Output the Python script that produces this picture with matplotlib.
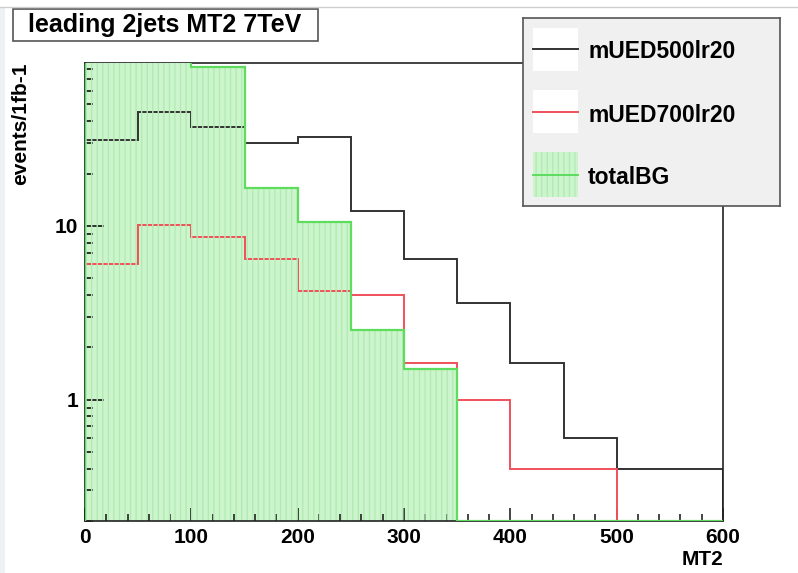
import numpy as np
import matplotlib
matplotlib.use('Agg')
import matplotlib.pyplot as plt
from matplotlib.patches import Rectangle
from matplotlib.lines import Line2D
from matplotlib.ticker import MultipleLocator, FixedLocator, LogLocator, NullFormatter, FuncFormatter

plt.rcParams['font.family'] = ['Liberation Sans', 'DejaVu Sans']
plt.rcParams['font.weight'] = 'bold'
plt.rcParams['hatch.linewidth'] = 1.0

# MT2 binning (50 GeV bins) and events per 1/fb
mt2_edges = [0, 50, 100, 150, 200, 250, 300, 350, 400, 450, 500, 550, 600]
mued500 = [31, 45, 37, 30, 32.5, 12.1, 6.4, 3.6, 1.63, 0.60, 0.40, 0.40]
mued700 = [6.05, 10.1, 8.6, 6.4, 4.2, 4.0, 1.62, 1.0, 0.40, 0.40, 0, 0]
total_bg = [140, 120, 82, 16.5, 10.5, 2.5, 1.5, 0, 0, 0, 0, 0]

labels = ['mUED500lr20', 'mUED700lr20', 'totalBG']

y_lo, y_hi = 0.2, 86.5
c_black = '#333333'
c_red = '#f0505a'
c_fill = '#cdf5cd'
c_hatch = '#b2ebb2'
c_green = '#5ddc5d'


def floor_zero(v):
    # empty bins sit on the bottom of the log axis
    v = np.asarray(v, dtype=float)
    return np.where(v > 0, v, y_lo)


fig = plt.figure(figsize=(7.98, 5.73), dpi=100)
ax = fig.add_axes([85 / 798, 52 / 573, 638 / 798, 458 / 573])
ax.set_yscale('log')

ax.stairs(floor_zero(total_bg), mt2_edges, baseline=y_lo, fill=True,
          facecolor=c_fill, edgecolor='none', zorder=1)
ax.stairs(floor_zero(mued500), mt2_edges, baseline=y_lo, color=c_black, lw=1.4, zorder=2)
ax.stairs(floor_zero(mued700), mt2_edges, baseline=y_lo, color=c_red, lw=1.4, zorder=2)
ax.stairs(floor_zero(total_bg), mt2_edges, baseline=y_lo, fill=True,
          facecolor='none', edgecolor=c_hatch, hatch='|||', linewidth=0, zorder=2.2)
ax.stairs(floor_zero(total_bg), mt2_edges, baseline=y_lo, color=c_green, lw=1.6, zorder=2.6)

ax.set_xlim(0, 600)
ax.set_ylim(y_lo, y_hi)

for s in ax.spines.values():
    s.set_color('#222222')
    s.set_linewidth(1.2)
ax.spines['top'].set_zorder(0.5)

ax.xaxis.set_major_locator(MultipleLocator(100))
ax.xaxis.set_minor_locator(MultipleLocator(20))
ax.yaxis.set_major_locator(FixedLocator([1, 10]))
ax.yaxis.set_major_formatter(FuncFormatter(lambda v, _: f'{v:g}'))
ax.yaxis.set_minor_locator(LogLocator(subs=np.arange(2, 10)))
ax.yaxis.set_minor_formatter(NullFormatter())

ax.tick_params(which='both', direction='in', top=False, right=False, color='#111111')
ax.tick_params(axis='x', which='major', length=9.5, width=1.1, labelsize=15, pad=5)
ax.tick_params(axis='x', which='minor', length=4.7, width=1.1)
ax.tick_params(axis='y', which='major', length=13.5, width=1.2, labelsize=15, pad=5)
ax.tick_params(axis='y', which='minor', length=6, width=1.2)

ax.set_xlabel('MT2', loc='right', fontsize=15, fontweight='bold', labelpad=2)
ax.set_ylabel('events/1fb-1', loc='top', fontsize=15, fontweight='bold', labelpad=18)

# title box
fig.add_artist(Rectangle((13 / 798, 1 - 41 / 573), 305 / 798, 32 / 573,
                         transform=fig.transFigure, facecolor='white',
                         edgecolor='#555555', lw=1.2))
fig.text(165 / 798, 1 - 25 / 573, 'leading 2jets MT2 7TeV', ha='center', va='center',
         fontsize=18, fontweight='bold')

# legend panel, laid out in pixel units
lax = fig.add_axes([523 / 798, 1 - 206 / 573, 257 / 798, 188 / 573])
lax.set_xlim(0, 257)
lax.set_ylim(188, 0)
lax.set_facecolor('#f0f0f0')
lax.set_xticks([])
lax.set_yticks([])
for s in lax.spines.values():
    s.set_color('#555555')
    s.set_linewidth(1.2)

rows = [(10, 53, 31, 34), (72, 115, 94, 97), (134, 179, 157, 159)]
colors = [c_black, c_red, c_green]
for i, (top, bot, ly, ty) in enumerate(rows):
    if i < 2:
        lax.add_patch(Rectangle((10, top), 45, bot - top, facecolor='white', edgecolor='none'))
    else:
        lax.add_patch(Rectangle((10, top), 45, bot - top, facecolor=c_fill, edgecolor='none'))
        lax.add_patch(Rectangle((10, top), 45, bot - top, facecolor='none',
                                edgecolor=c_hatch, hatch='|||', lw=0))
    lax.add_line(Line2D([10, 55], [ly, ly], color=colors[i], lw=1.4))
    lax.text(65, ty, labels[i], ha='left', va='center', fontsize=16.5, fontweight='bold')

# thin border of the canvas
fig.add_artist(Line2D([0, 1], [1 - 7 / 573] * 2, transform=fig.transFigure,
                      color='#cfcfcf', lw=1))
fig.add_artist(Rectangle((0, 0), 5 / 798, 1 - 7 / 573, transform=fig.transFigure,
                         facecolor='#eef0f4', edgecolor='none'))

fig.savefig('out.png', dpi=100)
